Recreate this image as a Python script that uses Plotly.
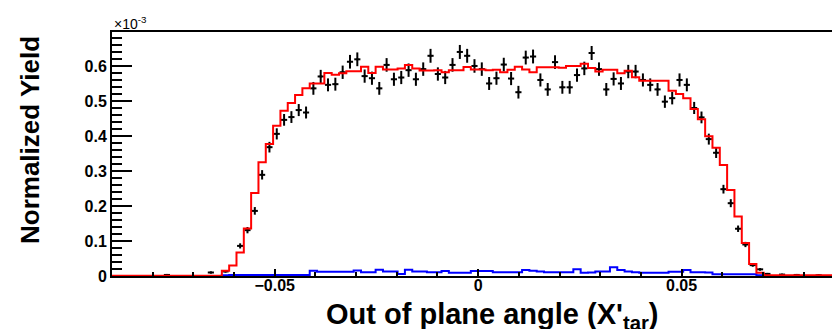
import numpy as np
import plotly.graph_objects as go

# ---- data (units of 1e-3), 100 bins from -0.09 to 0.09 ----
x_min, x_max, n_bins = -0.09, 0.09, 100

data_vals = [
    None, None, None, None, None, None, None, 0.003, None, None,
    None, None, None, 0.010, None, 0.013, None, 0.086, 0.131, 0.186,
    0.289, 0.368, 0.406, 0.446, 0.454, 0.474, 0.467, 0.536, 0.570, 0.546,
    0.548, 0.582, 0.612, 0.619, 0.571, 0.565, 0.536, 0.603, 0.562, 0.567,
    0.588, 0.562, 0.591, 0.629, 0.577, 0.567, 0.603, 0.640, 0.629, 0.600,
    0.591, 0.550, 0.565, 0.604, 0.564, 0.525, 0.624, 0.627, 0.560, 0.533,
    0.611, 0.539, 0.539, 0.574, 0.593, 0.637, 0.591, 0.533, 0.563, 0.550,
    0.584, 0.584, 0.560, 0.546, 0.533, 0.498, 0.508, 0.560, 0.546, 0.480,
    0.453, 0.391, 0.352, 0.248, 0.208, 0.135, 0.090, 0.031, 0.019, 0.006,
    None, 0.004, None, 0.003, None, None, 0.002, None, None, None,
]

mc_vals = [
    0.001, 0.001, 0.001, 0.001, 0.001, 0.001, 0.001, 0.001, 0.001, 0.001,
    0.001, 0.001, 0.001, 0.001, 0.001, 0.015, 0.030, 0.067, 0.136, 0.237,
    0.325, 0.377, 0.429, 0.472, 0.494, 0.517, 0.536, 0.550, 0.550, 0.580,
    0.575, 0.579, 0.585, 0.585, 0.598, 0.580, 0.598, 0.590, 0.590, 0.593,
    0.603, 0.593, 0.587, 0.587, 0.588, 0.582, 0.588, 0.588, 0.597, 0.590,
    0.590, 0.588, 0.589, 0.582, 0.589, 0.598, 0.590, 0.582, 0.596, 0.596,
    0.596, 0.595, 0.600, 0.600, 0.606, 0.594, 0.584, 0.589, 0.589, 0.579,
    0.586, 0.568, 0.558, 0.558, 0.558, 0.558, 0.529, 0.520, 0.508, 0.477,
    0.448, 0.399, 0.366, 0.317, 0.246, 0.170, 0.094, 0.034, 0.009, 0.002,
    0.002, 0.002, 0.002, 0.002, 0.002, 0.002, 0.002, 0.002, 0.002, 0.002,
]

bkg_vals = [
    0, 0, 0, 0, 0, 0, 0, 0, 0, 0,
    0, 0, 0, 0, 0, 0.002, 0.003, 0.003, 0.003, 0.003,
    0.003, 0.003, 0.003, 0.003, 0.003, 0.003, 0.003, 0.015, 0.012, 0.012,
    0.012, 0.012, 0.012, 0.016, 0.011, 0.011, 0.018, 0.013, 0.013, 0.006,
    0.018, 0.013, 0.013, 0.011, 0.011, 0.014, 0.009, 0.009, 0.009, 0.014,
    0.014, 0.014, 0.011, 0.011, 0.011, 0.011, 0.017, 0.015, 0.013, 0.011,
    0.011, 0.011, 0.011, 0.019, 0.009, 0.010, 0.013, 0.013, 0.025, 0.017,
    0.013, 0.011, 0.009, 0.009, 0.009, 0.009, 0.012, 0.012, 0.017, 0.011,
    0.011, 0.010, 0.005, 0.005, 0.005, 0.005, 0.005, 0.005, 0.002, 0,
    0, 0, 0, 0, 0, 0, 0, 0, 0, 0,
]

y_ticks = [0, 0.1, 0.2, 0.3, 0.4, 0.5, 0.6]
x_ticks = [-0.05, 0, 0.05]

# ---- derived ----
bw = (x_max - x_min) / n_bins
edges = x_min + bw * np.arange(n_bins + 1)
centers = 0.5 * (edges[:-1] + edges[1:])

pts_x = [c for c, v in zip(centers, data_vals) if v is not None]
pts_y = [v for v in data_vals if v is not None]
pts_err = [0.025 * np.sqrt(v) for v in pts_y]  # statistical errors


def step(vals):
    xs = list(edges)
    ys = list(vals) + [vals[-1]]
    return xs, ys


fig = go.Figure()

fig.add_trace(go.Scatter(
    x=pts_x, y=pts_y, mode="markers",
    marker=dict(color="black", size=2, symbol="square"),
    error_y=dict(type="data", array=pts_err, color="black", thickness=2, width=0),
    error_x=dict(type="constant", value=bw * 0.42, color="black", thickness=2, width=0),
    showlegend=False, cliponaxis=True,
))

bx, by = step(bkg_vals)
fig.add_trace(go.Scatter(x=bx, y=by, mode="lines", line=dict(color="#0000ff", width=2, shape="hv"),
                         showlegend=False))
mx, my = step(mc_vals)
fig.add_trace(go.Scatter(x=mx, y=my, mode="lines", line=dict(color="#ff0000", width=2, shape="hv"),
                         showlegend=False))

font_family = "Liberation Sans, Arial, Helvetica, sans-serif"

fig.update_layout(
    width=832, height=329,
    margin=dict(l=112, r=0, t=32, b=53, pad=0, autoexpand=False),
    paper_bgcolor="white", plot_bgcolor="white",
    font=dict(family=font_family, color="black"),
    xaxis=dict(
        range=[-0.09, 0.08698], showgrid=False, zeroline=False, automargin=False,
        showline=True, linecolor="black", linewidth=2, mirror=True,
        ticks="inside", ticklen=7, tickwidth=1.5, tickcolor="black",
        tickvals=x_ticks, ticklabelstandoff=-6,
        tickfont=dict(size=16, family=font_family, weight="bold"),
        minor=dict(dtick=0.01, tick0=0, ticks="inside", ticklen=4, tickwidth=1.5, tickcolor="black"),
    ),
    yaxis=dict(
        range=[0, 0.697], showgrid=False, zeroline=False, automargin=False,
        showline=True, linecolor="black", linewidth=2, mirror=False,
        ticks="inside", ticklen=20, tickwidth=2, tickcolor="black",
        tickvals=y_ticks, ticktext=[f"{v:g}" for v in y_ticks],
        tickfont=dict(size=16, family=font_family, weight="bold"),
        minor=dict(dtick=0.02, tick0=0, ticks="inside", ticklen=10, tickwidth=2, tickcolor="black"),
    ),
    annotations=[
        dict(text="Normalized Yield", textangle=-90, xref="paper", yref="paper",
             x=(30 - 112) / 720, y=(276 - 140) / 244, xanchor="center", yanchor="middle",
             showarrow=False, font=dict(size=26, family=font_family, weight="bold")),
        dict(text="Out of plane angle (X'<sub>tar</sub>)", xref="paper", yref="paper",
             x=(492 - 112) / 720, y=(276 - 316) / 244, xanchor="center", yanchor="middle",
             showarrow=False, font=dict(size=29, family=font_family, weight="bold")),
        dict(text="×10<sup>-3</sup>", xref="paper", yref="paper",
             x=0, y=(276 - 23) / 244, xanchor="left", yanchor="middle",
             showarrow=False, font=dict(size=14, family=font_family)),
    ],
)

fig.write_html("out.html", config={"displayModeBar": False},
               post_script="document.body.style.margin='0';document.body.style.overflow='hidden';")
